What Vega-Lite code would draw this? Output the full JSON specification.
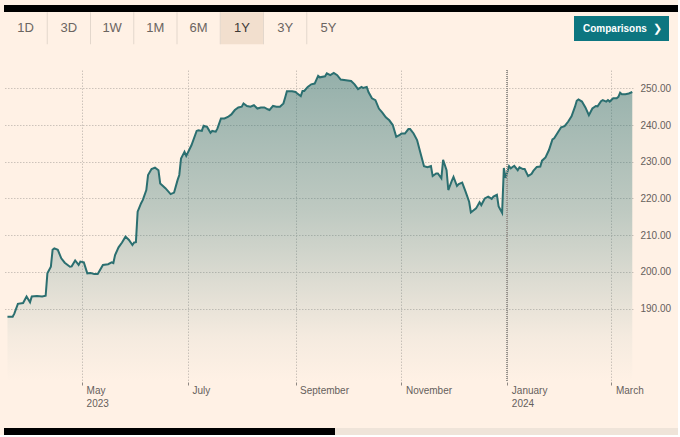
{
  "$schema": "https://vega.github.io/schema/vega-lite/v6.json",
  "background": "#fff1e5",
  "padding": {"left": 3, "top": 5, "right": 0, "bottom": 0},
  "spacing": 0,
  "bounds": "flush",
  "config": {
    "view": {"stroke": null},
    "font": "Liberation Sans, Arial, sans-serif"
  },
  "vconcat": [
    {
      "width": 674,
      "height": 7,
      "data": {"values": [{"part": "top bar"}]},
      "mark": {"type": "rect", "fill": "#000000"},
      "encoding": {}
    },
    {
      "hconcat": [
        {
          "width": 346,
          "height": 32,
          "data": {"values": [
            {"label": "1D", "active": false},
            {"label": "3D", "active": false},
            {"label": "1W", "active": false},
            {"label": "1M", "active": false},
            {"label": "6M", "active": false},
            {"label": "1Y", "active": true},
            {"label": "3Y", "active": false},
            {"label": "5Y", "active": false}
          ]},
          "encoding": {
            "x": {"field": "label", "type": "nominal", "axis": null,
              "scale": {"domain": ["1D","3D","1W","1M","6M","1Y","3Y","5Y"], "paddingInner": 0, "paddingOuter": 0}}
          },
          "layer": [
            {"transform": [{"filter": "datum.active"}], "mark": {"type": "rect", "fill": "#f2dfce"}},
            {"transform": [{"filter": "datum.label != '1D'"}], "mark": {"type": "rule", "stroke": "#e3d7cc", "strokeWidth": 1},
             "encoding": {"x": {"field": "label", "type": "nominal", "bandPosition": 0}}},
            {"mark": {"type": "text", "fontSize": 13},
             "encoding": {"text": {"field": "label"},
               "color": {"condition": {"test": "datum.active", "value": "#3d3936"}, "value": "#6b6561"}}}
          ]
        },
        {
          "width": 95,
          "height": 25,
          "data": {"values": [{"button": "Comparisons", "icon": "❯"}]},
          "layer": [
            {"mark": {"type": "rect", "fill": "#0d7680"}, "encoding": {}},
            {"mark": {"type": "text", "fill": "#ffffff", "fontWeight": "bold", "fontSize": 10, "align": "left", "dx": -38.5},
             "encoding": {"text": {"field": "button"}}},
            {"mark": {"type": "text", "fill": "#ffffff", "fontWeight": "bold", "fontSize": 11, "align": "center", "dx": 36, "font": "DejaVu Sans"},
             "encoding": {"text": {"field": "icon"}}}
          ]
        }
      ],
      "spacing": 224,
      "center": true
    },
    {
      "width": 674,
      "height": 58,
      "data": {"values": [{"spacer": 1}]},
      "mark": {"type": "rect", "opacity": 0},
      "encoding": {}
    },
    {
      "width": 629,
      "height": 312,
      "data": {"values": [
        {"d":"2023-03-19","v":187.8},{"d":"2023-03-22","v":187.8},{"d":"2023-03-23","v":188.7},{"d":"2023-03-25","v":191.3},
        {"d":"2023-03-28","v":191.5},{"d":"2023-03-30","v":193.3},{"d":"2023-04-01","v":191.7},{"d":"2023-04-02","v":193.3},
        {"d":"2023-04-05","v":193.4},{"d":"2023-04-08","v":193.3},{"d":"2023-04-10","v":193.5},{"d":"2023-04-11","v":199.6},
        {"d":"2023-04-13","v":201.4},{"d":"2023-04-14","v":206.0},{"d":"2023-04-15","v":206.4},{"d":"2023-04-17","v":206.0},
        {"d":"2023-04-19","v":203.7},{"d":"2023-04-21","v":202.5},{"d":"2023-04-24","v":201.4},{"d":"2023-04-25","v":201.5},
        {"d":"2023-04-27","v":203.1},{"d":"2023-04-29","v":201.9},{"d":"2023-04-30","v":202.8},{"d":"2023-05-02","v":202.6},
        {"d":"2023-05-04","v":199.6},{"d":"2023-05-06","v":199.7},{"d":"2023-05-08","v":199.4},{"d":"2023-05-10","v":199.4},
        {"d":"2023-05-13","v":201.9},{"d":"2023-05-16","v":202.1},{"d":"2023-05-18","v":202.6},{"d":"2023-05-19","v":202.4},
        {"d":"2023-05-20","v":204.6},{"d":"2023-05-22","v":206.7},{"d":"2023-05-24","v":208.0},{"d":"2023-05-26","v":209.6},
        {"d":"2023-05-28","v":208.7},{"d":"2023-05-30","v":207.3},{"d":"2023-05-31","v":208.0},{"d":"2023-06-01","v":208.1},
        {"d":"2023-06-02","v":216.4},{"d":"2023-06-04","v":218.7},{"d":"2023-06-05","v":219.6},{"d":"2023-06-07","v":222.3},
        {"d":"2023-06-08","v":226.4},{"d":"2023-06-10","v":228.0},{"d":"2023-06-12","v":228.4},{"d":"2023-06-14","v":227.7},
        {"d":"2023-06-15","v":224.1},{"d":"2023-06-18","v":222.8},{"d":"2023-06-21","v":221.2},{"d":"2023-06-23","v":221.6},
        {"d":"2023-06-25","v":225.0},{"d":"2023-06-26","v":226.4},{"d":"2023-06-27","v":230.9},{"d":"2023-06-29","v":232.7},
        {"d":"2023-06-30","v":231.6},{"d":"2023-07-03","v":234.5},{"d":"2023-07-06","v":238.4},{"d":"2023-07-07","v":238.6},
        {"d":"2023-07-09","v":238.4},{"d":"2023-07-10","v":239.8},{"d":"2023-07-12","v":239.5},{"d":"2023-07-14","v":237.9},
        {"d":"2023-07-15","v":238.4},{"d":"2023-07-17","v":238.2},{"d":"2023-07-18","v":239.1},{"d":"2023-07-20","v":241.8},
        {"d":"2023-07-22","v":241.8},{"d":"2023-07-24","v":242.2},{"d":"2023-07-26","v":242.9},{"d":"2023-07-28","v":244.1},
        {"d":"2023-07-30","v":244.8},{"d":"2023-08-01","v":245.0},{"d":"2023-08-02","v":245.9},{"d":"2023-08-04","v":245.2},
        {"d":"2023-08-06","v":245.0},{"d":"2023-08-08","v":245.4},{"d":"2023-08-10","v":244.5},{"d":"2023-08-12","v":244.8},
        {"d":"2023-08-14","v":244.8},{"d":"2023-08-16","v":244.3},{"d":"2023-08-17","v":244.1},{"d":"2023-08-19","v":245.2},
        {"d":"2023-08-21","v":245.0},{"d":"2023-08-23","v":245.0},{"d":"2023-08-25","v":245.9},{"d":"2023-08-26","v":247.5},
        {"d":"2023-08-27","v":249.2},{"d":"2023-08-30","v":249.2},{"d":"2023-09-01","v":249.0},{"d":"2023-09-02","v":248.6},
        {"d":"2023-09-04","v":247.9},{"d":"2023-09-05","v":249.3},{"d":"2023-09-06","v":249.3},{"d":"2023-09-08","v":250.4},
        {"d":"2023-09-10","v":251.1},{"d":"2023-09-12","v":251.3},{"d":"2023-09-14","v":253.4},{"d":"2023-09-15","v":253.0},
        {"d":"2023-09-18","v":253.3},{"d":"2023-09-19","v":254.1},{"d":"2023-09-21","v":253.6},{"d":"2023-09-23","v":254.2},
        {"d":"2023-09-25","v":253.6},{"d":"2023-09-27","v":252.4},{"d":"2023-09-30","v":252.2},{"d":"2023-10-03","v":252.0},
        {"d":"2023-10-05","v":251.1},{"d":"2023-10-07","v":249.8},{"d":"2023-10-09","v":250.4},{"d":"2023-10-10","v":250.1},
        {"d":"2023-10-12","v":250.4},{"d":"2023-10-13","v":249.0},{"d":"2023-10-15","v":247.3},{"d":"2023-10-17","v":246.8},
        {"d":"2023-10-19","v":244.5},{"d":"2023-10-21","v":243.4},{"d":"2023-10-23","v":242.1},{"d":"2023-10-25","v":241.3},
        {"d":"2023-10-27","v":240.0},{"d":"2023-10-29","v":236.8},{"d":"2023-10-31","v":237.3},{"d":"2023-11-01","v":237.7},
        {"d":"2023-11-03","v":237.7},{"d":"2023-11-05","v":238.9},{"d":"2023-11-06","v":238.9},{"d":"2023-11-08","v":237.7},
        {"d":"2023-11-10","v":235.9},{"d":"2023-11-12","v":232.3},{"d":"2023-11-14","v":228.8},{"d":"2023-11-16","v":228.5},
        {"d":"2023-11-18","v":228.8},{"d":"2023-11-19","v":226.1},{"d":"2023-11-21","v":226.8},{"d":"2023-11-22","v":226.8},
        {"d":"2023-11-24","v":225.5},{"d":"2023-11-25","v":230.5},{"d":"2023-11-27","v":227.7},{"d":"2023-11-28","v":222.3},
        {"d":"2023-11-30","v":224.8},{"d":"2023-12-01","v":225.9},{"d":"2023-12-03","v":223.4},{"d":"2023-12-04","v":223.9},
        {"d":"2023-12-06","v":224.3},{"d":"2023-12-08","v":221.8},{"d":"2023-12-10","v":219.1},{"d":"2023-12-11","v":216.2},
        {"d":"2023-12-14","v":217.3},{"d":"2023-12-16","v":219.0},{"d":"2023-12-17","v":218.2},{"d":"2023-12-19","v":220.0},
        {"d":"2023-12-21","v":220.5},{"d":"2023-12-23","v":219.9},{"d":"2023-12-24","v":220.5},{"d":"2023-12-26","v":221.0},
        {"d":"2023-12-27","v":217.8},{"d":"2023-12-29","v":216.1},{"d":"2023-12-30","v":228.3},{"d":"2023-12-31","v":225.6},
        {"d":"2024-01-02","v":228.8},{"d":"2024-01-03","v":228.2},{"d":"2024-01-05","v":228.9},{"d":"2024-01-07","v":227.7},
        {"d":"2024-01-08","v":228.5},{"d":"2024-01-10","v":228.0},{"d":"2024-01-11","v":228.0},{"d":"2024-01-13","v":226.1},
        {"d":"2024-01-15","v":226.7},{"d":"2024-01-16","v":227.5},{"d":"2024-01-18","v":228.6},{"d":"2024-01-20","v":228.7},
        {"d":"2024-01-21","v":230.3},{"d":"2024-01-23","v":231.2},{"d":"2024-01-25","v":233.2},{"d":"2024-01-27","v":236.1},
        {"d":"2024-01-28","v":236.4},{"d":"2024-01-30","v":237.9},{"d":"2024-02-01","v":239.4},{"d":"2024-02-03","v":239.7},
        {"d":"2024-02-05","v":240.9},{"d":"2024-02-07","v":242.4},{"d":"2024-02-09","v":245.0},{"d":"2024-02-10","v":246.6},
        {"d":"2024-02-11","v":247.0},{"d":"2024-02-13","v":246.4},{"d":"2024-02-15","v":244.8},{"d":"2024-02-17","v":242.7},
        {"d":"2024-02-19","v":244.5},{"d":"2024-02-21","v":245.2},{"d":"2024-02-22","v":245.1},{"d":"2024-02-24","v":246.5},
        {"d":"2024-02-25","v":246.8},{"d":"2024-02-27","v":246.4},{"d":"2024-02-28","v":246.8},{"d":"2024-02-29","v":246.4},
        {"d":"2024-03-02","v":247.3},{"d":"2024-03-04","v":247.3},{"d":"2024-03-05","v":247.7},{"d":"2024-03-06","v":248.8},
        {"d":"2024-03-07","v":248.4},{"d":"2024-03-09","v":248.4},{"d":"2024-03-11","v":248.6},{"d":"2024-03-13","v":249.0}
      ]},
      "encoding": {
        "x": {
          "field": "d", "type": "temporal", "title": null,
          "scale": {"type": "utc", "domain": [
            {"year": 2023, "month": 3, "date": 17, "utc": true},
            {"year": 2024, "month": 3, "date": 13, "hours": 10, "utc": true}
          ]},
          "axis": {
            "values": [
              {"year": 2023, "month": 5, "date": 1, "utc": true},
              {"year": 2023, "month": 7, "date": 1, "utc": true},
              {"year": 2023, "month": 9, "date": 1, "utc": true},
              {"year": 2023, "month": 11, "date": 1, "utc": true},
              {"year": 2024, "month": 1, "date": 1, "utc": true},
              {"year": 2024, "month": 3, "date": 1, "utc": true}
            ],
            "labelExpr": "utcmonth(datum.value) == 0 || (utcyear(datum.value) == 2023 && utcmonth(datum.value) == 4) ? [utcFormat(datum.value, '%B'), utcFormat(datum.value, '%Y')] : utcFormat(datum.value, '%B')",
            "labelAlign": "left", "labelOffset": 4, "labelPadding": 0,
            "labelFontSize": 10, "labelColor": "#66605c", "labelLineHeight": 13,
            "labelOverlap": false, "labelFlush": false,
            "tickSize": 3, "tickColor": "#8f8883", "domain": false,
            "grid": true, "gridColor": "#cdc3ba", "gridDash": [1.5, 1.5]
          }
        },
        "y": {
          "field": "v", "type": "quantitative", "title": null,
          "scale": {"domain": [170, 255], "zero": false, "nice": false},
          "axis": {
            "orient": "right", "values": [190, 200, 210, 220, 230, 240, 250], "format": ".2f",
            "labelAlign": "left", "labelPadding": 7, "labelBaseline": "middle",
            "labelFontSize": 10, "labelColor": "#66605c",
            "ticks": false, "domain": false,
            "grid": true, "gridColor": "#cdc3ba", "gridDash": [1.5, 1.5]
          }
        }
      },
      "layer": [
        {"mark": {"type": "area", "line": false, "color": {
          "gradient": "linear", "x1": 1, "y1": 0, "x2": 1, "y2": 1,
          "stops": [
            {"offset": 0, "color": "rgba(43,111,112,0.5)"},
            {"offset": 0.45, "color": "rgba(43,111,112,0.3)"},
            {"offset": 0.85, "color": "rgba(43,111,112,0.05)"},
            {"offset": 1, "color": "rgba(43,111,112,0)"}
          ]}},
         "encoding": {"y2": {"datum": 170}}},
        {"mark": {"type": "line", "stroke": "#2b6f70", "strokeWidth": 2}},
        {"mark": {"type": "rule", "stroke": "#9a938d", "strokeWidth": 1, "strokeDash": [1, 1]},
         "encoding": {
           "x": {"datum": {"year": 2024, "month": 1, "date": 1, "utc": true}, "type": "temporal"},
           "y": {"datum": 255, "type": "quantitative"},
           "y2": {"datum": 170}
         }}
      ]
    },
    {
      "width": 674,
      "height": 46,
      "data": {"values": [{"spacer": 2}]},
      "mark": {"type": "rect", "opacity": 0},
      "encoding": {}
    },
    {
      "hconcat": [
        {
          "width": 331,
          "height": 7,
          "data": {"values": [{"part": "scroll thumb"}]},
          "mark": {"type": "rect", "fill": "#000000"},
          "encoding": {}
        },
        {
          "width": 343,
          "height": 7,
          "data": {"values": [{"part": "scroll track"}]},
          "mark": {"type": "rect", "fill": "#efe4d9"},
          "encoding": {}
        }
      ],
      "spacing": 0
    }
  ]
}
